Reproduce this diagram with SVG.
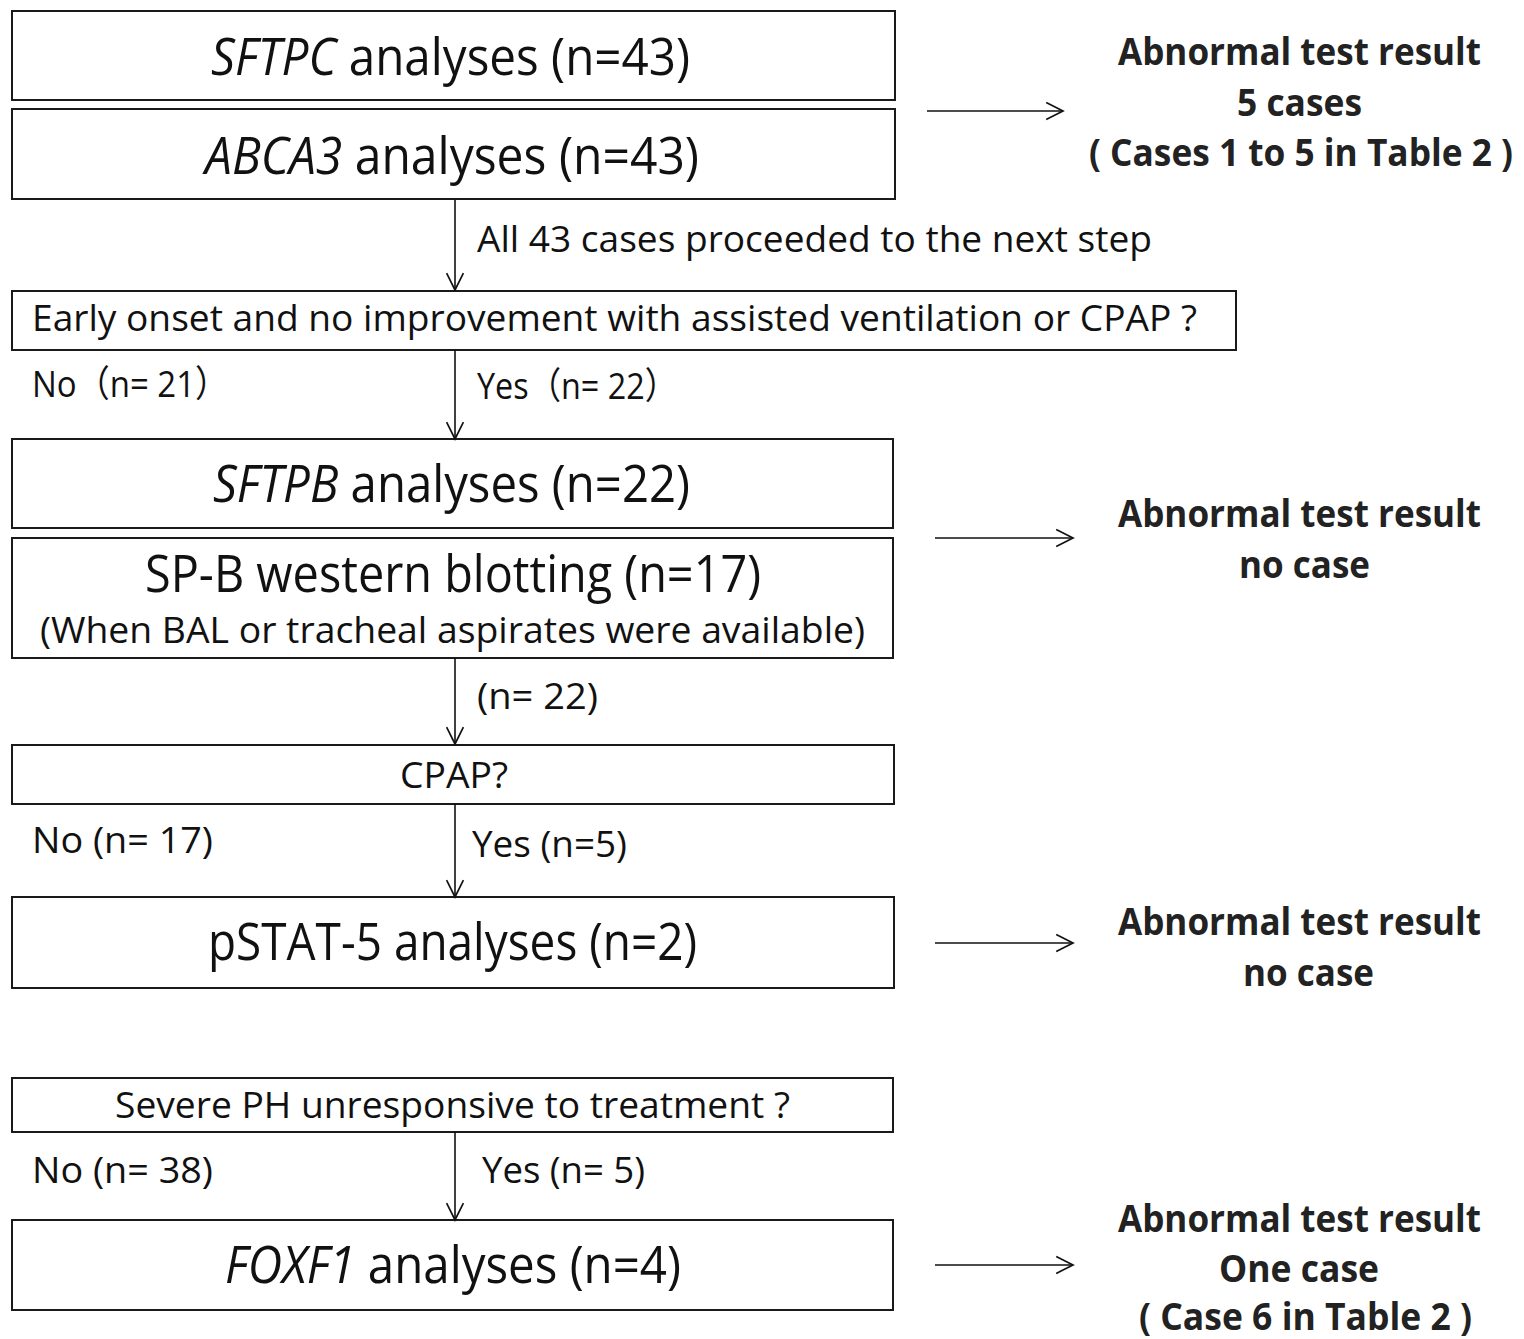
<svg xmlns="http://www.w3.org/2000/svg" width="1524" height="1339" viewBox="0 0 1524 1339">
  <style>
    .box { fill: #ffffff; stroke: #1a1a1a; stroke-width: 2; }
    .big { font-family: "Open Sans", "Noto Sans CJK JP", sans-serif; font-size: 51px; fill: #111; }
    .mid { font-family: "Open Sans", "Noto Sans CJK JP", sans-serif; font-size: 37px; fill: #111; }
    .res { font-family: "Open Sans", "Noto Sans CJK JP", sans-serif; font-size: 38px; font-weight: bold; fill: #222; }
    .it { font-style: italic; }
    .conn line { stroke: #111; stroke-width: 1.6; fill: none; marker-end: url(#vee); }
  </style>
  <defs>
    <marker id="vee" viewBox="0 0 20 20" refX="18" refY="10" markerWidth="21" markerHeight="21" markerUnits="userSpaceOnUse" orient="auto">
      <path d="M2,2 L18,10 L2,18" fill="none" stroke="#111" stroke-width="1.6"/>
    </marker>
  </defs>
  <rect width="1524" height="1339" fill="#ffffff"/>

  <!-- surfactant gene screening -->
  <g id="sftpc">
    <rect class="box" x="12" y="11" width="883" height="89"/>
    <text class="big" x="211" y="75" textLength="479" lengthAdjust="spacingAndGlyphs"><tspan class="it">SFTPC</tspan> analyses (n=43)</text>
  </g>
  <g id="abca3">
    <rect class="box" x="12" y="109" width="883" height="90"/>
    <text class="big" x="205" y="174" textLength="494" lengthAdjust="spacingAndGlyphs"><tspan class="it">ABCA3</tspan> analyses (n=43)</text>
  </g>
  <g id="result1">
    <text class="res" x="1118" y="65" textLength="363" lengthAdjust="spacingAndGlyphs">Abnormal test result</text>
    <text class="res" x="1237" y="116" textLength="125" lengthAdjust="spacingAndGlyphs">5 cases</text>
    <text class="res" x="1089" y="166" textLength="424" lengthAdjust="spacingAndGlyphs">( Cases 1 to 5 in Table 2 )</text>
  </g>

  <g id="onset">
    <rect class="box" x="12" y="291" width="1224" height="59"/>
    <text class="mid" x="32" y="331" textLength="1165" lengthAdjust="spacingAndGlyphs">Early onset and no improvement with assisted ventilation or CPAP ?</text>
  </g>

  <g id="sftpb">
    <rect class="box" x="12" y="439" width="881" height="89"/>
    <text class="big" x="213" y="502" textLength="477" lengthAdjust="spacingAndGlyphs"><tspan class="it">SFTPB</tspan> analyses (n=22)</text>
  </g>
  <g id="spb-wb">
    <rect class="box" x="12" y="538" width="881" height="120"/>
    <text class="big" x="145" y="592" textLength="616" lengthAdjust="spacingAndGlyphs">SP-B western blotting (n=17)</text>
    <text class="mid" x="40" y="643" textLength="825" lengthAdjust="spacingAndGlyphs">(When BAL or tracheal aspirates were available)</text>
  </g>
  <g id="result2">
    <text class="res" x="1118" y="527" textLength="363" lengthAdjust="spacingAndGlyphs">Abnormal test result</text>
    <text class="res" x="1239" y="578" textLength="131" lengthAdjust="spacingAndGlyphs">no case</text>
  </g>

  <g id="cpap">
    <rect class="box" x="12" y="745" width="882" height="59"/>
    <text class="mid" x="400" y="788" textLength="108" lengthAdjust="spacingAndGlyphs">CPAP?</text>
  </g>

  <g id="pstat5">
    <rect class="box" x="12" y="897" width="882" height="91"/>
    <text class="big" x="208" y="960" textLength="489" lengthAdjust="spacingAndGlyphs">pSTAT-5 analyses (n=2)</text>
  </g>
  <g id="result3">
    <text class="res" x="1118" y="935" textLength="363" lengthAdjust="spacingAndGlyphs">Abnormal test result</text>
    <text class="res" x="1243" y="986" textLength="131" lengthAdjust="spacingAndGlyphs">no case</text>
  </g>

  <!-- pulmonary hypertension branch -->
  <g id="ph">
    <rect class="box" x="12" y="1078" width="881" height="54"/>
    <text class="mid" x="115" y="1118" textLength="675" lengthAdjust="spacingAndGlyphs">Severe PH unresponsive to treatment ?</text>
  </g>
  <g id="foxf1">
    <rect class="box" x="12" y="1220" width="881" height="90"/>
    <text class="big" x="225" y="1283" textLength="456" lengthAdjust="spacingAndGlyphs"><tspan class="it">FOXF1</tspan> analyses (n=4)</text>
  </g>
  <g id="result4">
    <text class="res" x="1118" y="1232" textLength="363" lengthAdjust="spacingAndGlyphs">Abnormal test result</text>
    <text class="res" x="1219" y="1282" textLength="160" lengthAdjust="spacingAndGlyphs">One case</text>
    <text class="res" x="1139" y="1330" textLength="333" lengthAdjust="spacingAndGlyphs">( Case 6 in Table 2 )</text>
  </g>

  <!-- connectors and their labels -->
  <g id="connectors" class="conn">
    <line x1="455" y1="200" x2="455" y2="290"/>
    <line x1="455" y1="350" x2="455" y2="439"/>
    <line x1="455" y1="658" x2="455" y2="744"/>
    <line x1="455" y1="804" x2="455" y2="897"/>
    <line x1="455" y1="1132" x2="455" y2="1220"/>
    <line x1="927" y1="111" x2="1063" y2="111"/>
    <line x1="935" y1="538" x2="1073" y2="538"/>
    <line x1="935" y1="943" x2="1073" y2="943"/>
    <line x1="935" y1="1265" x2="1073" y2="1265"/>
    <text class="mid" x="477" y="252" textLength="675" lengthAdjust="spacingAndGlyphs">All 43 cases proceeded to the next step</text>
    <text class="mid" x="32" y="397" textLength="196" lengthAdjust="spacingAndGlyphs">No（n= 21）</text>
    <text class="mid" x="477" y="399" textLength="200" lengthAdjust="spacingAndGlyphs">Yes（n= 22）</text>
    <text class="mid" x="477" y="709" textLength="121" lengthAdjust="spacingAndGlyphs">(n= 22)</text>
    <text class="mid" x="32" y="853" textLength="181" lengthAdjust="spacingAndGlyphs">No (n= 17)</text>
    <text class="mid" x="472" y="857" textLength="155" lengthAdjust="spacingAndGlyphs">Yes (n=5)</text>
    <text class="mid" x="32" y="1183" textLength="181" lengthAdjust="spacingAndGlyphs">No (n= 38)</text>
    <text class="mid" x="482" y="1183" textLength="163" lengthAdjust="spacingAndGlyphs">Yes (n= 5)</text>
  </g>
</svg>
